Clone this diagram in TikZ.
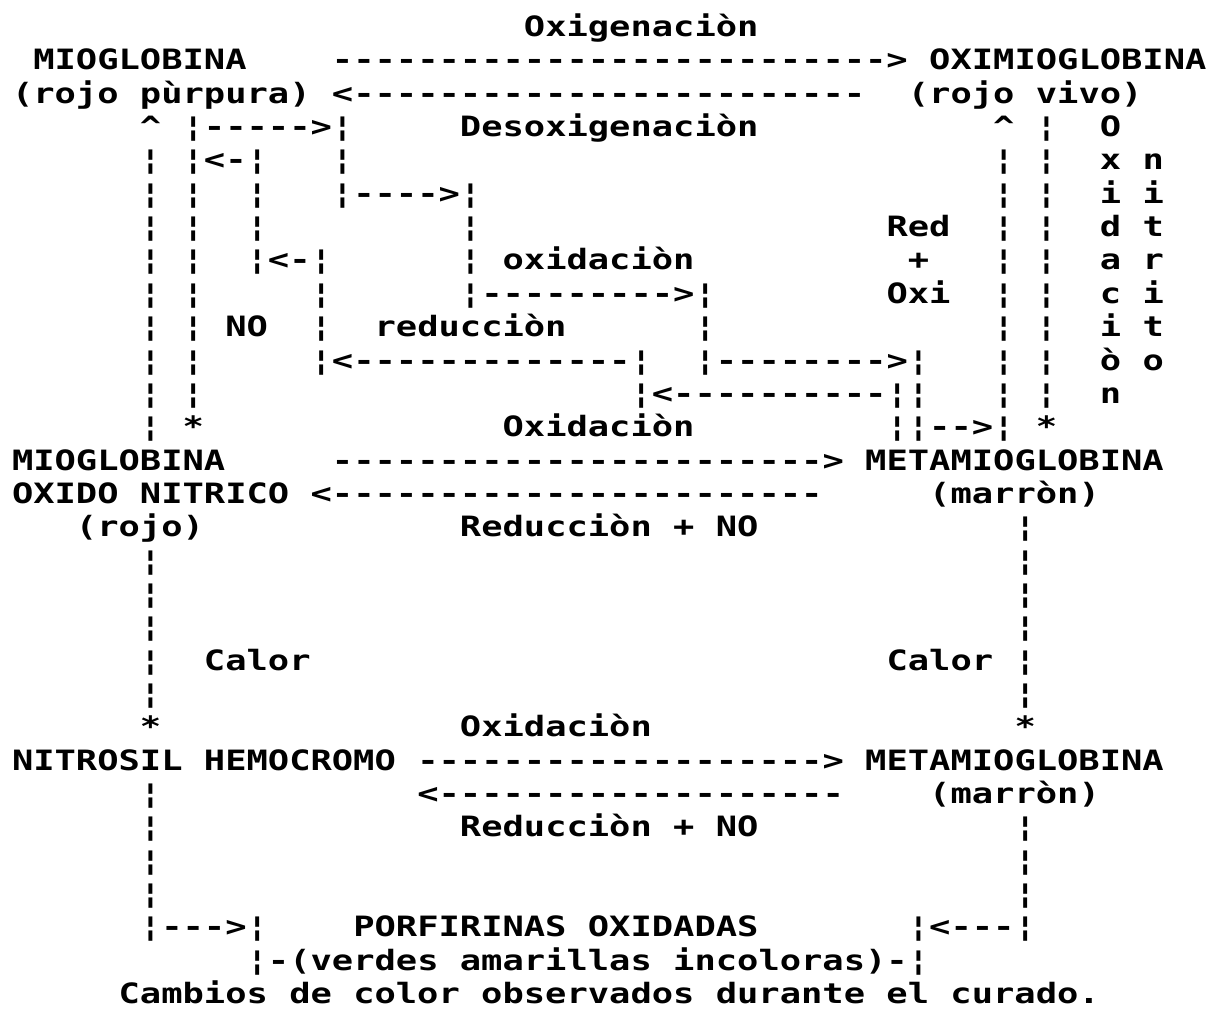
\documentclass[tikz,border=0pt]{standalone}
\usepackage{fontspec}
\newfontfamily\dm{DejaVu Sans Mono Bold}[FakeStretch=1.2653,Ligatures=TeXOff]
\newcommand\dsh[1]{\foreach\i in {1,...,#1}{-}}
\newcommand\putt[4]{\node[txt] (#1) at ({12+21.33*#2},{36.5+33.35*#3}) {#4};}
\begin{document}
\begin{tikzpicture}[x=0.5pt,y=-0.5pt,
  txt/.style={anchor=base west,inner sep=0pt,outer sep=0pt,font=\dm\fontsize{14}{14}\selectfont}]
\useasboundingbox (0,0) rectangle (1213,1011);
\fill[white] (0,0) rectangle (1213,1011);
% row 0-2
\putt{o0}{24}{0}{Oxigenaciòn}
\putt{a1}{1}{1}{MIOGLOBINA}
\putt{b1}{15}{1}{\dsh{26}>}
\putt{c1}{43}{1}{OXIMIOGLOBINA}
\putt{a2}{0}{2}{(rojo pùrpura)}
\putt{b2}{15}{2}{<\dsh{24}}
\putt{c2}{42}{2}{(rojo vivo)}
% upper network
\putt{a3}{6}{3}{\textasciicircum}
\putt{b3}{8}{3}{¦\dsh{5}>¦}
\putt{d3}{21}{3}{Desoxigenaciòn}
\putt{e3}{46}{3}{\textasciicircum}
\putt{f3}{48}{3}{¦}
\foreach \r in {4,...,12} {\putt{la\r}{6}{\r}{¦}}
\foreach \r in {5,...,11} {\putt{lb\r}{8}{\r}{¦}}
\foreach \r in {4,...,11} {\putt{ra\r}{46}{\r}{¦}\putt{rb\r}{48}{\r}{¦}}
\putt{b4}{8}{4}{¦<-¦}
\putt{c4}{15}{4}{¦}
\putt{c5}{11}{5}{¦}
\putt{d5}{15}{5}{¦\dsh{4}>¦}
\putt{c6}{11}{6}{¦}
\putt{d6}{21}{6}{¦}
\putt{red}{41}{6}{Red}
\putt{c7}{11}{7}{¦<-¦}
\putt{d7}{21}{7}{¦}
\putt{ox7}{23}{7}{oxidaciòn}
\putt{plus}{42}{7}{+}
\putt{c8}{14}{8}{¦}
\putt{d8}{21}{8}{¦\dsh{9}>¦}
\putt{oxi}{41}{8}{Oxi}
\putt{no9}{10}{9}{NO}
\putt{c9}{14}{9}{¦}
\putt{re9}{17}{9}{reducciòn}
\putt{d9}{32}{9}{¦}
\putt{c10}{14}{10}{¦<\dsh{13}¦}
\putt{d10}{32}{10}{¦\dsh{8}>¦}
\putt{c11}{29}{11}{¦<\dsh{10}¦¦}
\putt{st12}{8}{12}{*}
\putt{ox12}{23}{12}{Oxidaciòn}
\putt{d12}{41}{12}{¦¦\dsh{2}>¦}
\putt{rs12}{48}{12}{*}
\foreach \ch [count=\k from 3] in {O,x,i,d,a,c,i,ò,n} {\putt{va\k}{51}{\k}{\ch}}
\foreach \ch [count=\k from 4] in {n,i,t,r,i,t,o} {\putt{vb\k}{53}{\k}{\ch}}
% middle
\putt{a13}{0}{13}{MIOGLOBINA}
\putt{b13}{15}{13}{\dsh{23}>}
\putt{c13}{40}{13}{METAMIOGLOBINA}
\putt{a14}{0}{14}{OXIDO NITRICO}
\putt{b14}{14}{14}{<\dsh{23}}
\putt{c14}{43}{14}{(marròn)}
\putt{a15}{3}{15}{(rojo)}
\putt{x15}{21}{15}{Reducciòn + NO}
\foreach \r in {16,...,20} {\putt{lc\r}{6}{\r}{¦}}
\foreach \r in {15,...,20} {\putt{rc\r}{47}{\r}{¦}}
\putt{cal1}{9}{19}{Calor}
\putt{cal2}{41}{19}{Calor}
\putt{s21}{6}{21}{*}
\putt{x21}{21}{21}{Oxidaciòn}
\putt{t21}{47}{21}{*}
% lower
\putt{a22}{0}{22}{NITROSIL HEMOCROMO}
\putt{b22}{19}{22}{\dsh{19}>}
\putt{c22}{40}{22}{METAMIOGLOBINA}
\putt{b23}{19}{23}{<\dsh{19}}
\putt{c23}{43}{23}{(marròn)}
\foreach \r in {23,...,26} {\putt{ld\r}{6}{\r}{¦}}
\foreach \r in {24,...,26} {\putt{rd\r}{47}{\r}{¦}}
\putt{x24}{21}{24}{Reducciòn + NO}
\putt{a27}{6}{27}{¦\dsh{3}>¦}
\putt{x27}{16}{27}{PORFIRINAS OXIDADAS}
\putt{f27}{42}{27}{¦<\dsh{3}¦}
\putt{a28}{11}{28}{¦-(verdes amarillas incoloras)-¦}
\putt{a29}{5}{29}{Cambios de color observados durante el curado.}
\end{tikzpicture}
\end{document}
